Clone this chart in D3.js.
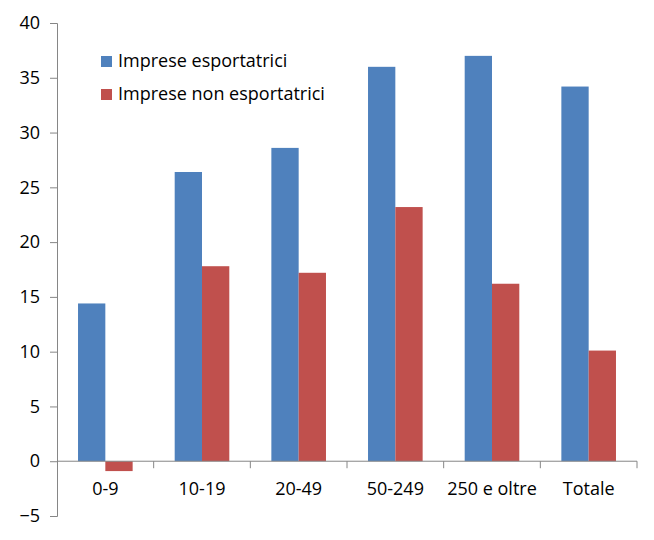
<!DOCTYPE html>
<html lang="it">
<head>
<meta charset="UTF-8">
<script src="https://d3js.org/d3.v7.min.js"></script>
<style>
  body { margin: 0; background: #fff; }
  text { font-family: "Open Sans", "Noto Sans", sans-serif; fill: #000; }
</style>
</head>
<body>
<script>
// data
var categories = ["0-9", "10-19", "20-49", "50-249", "250 e oltre", "Totale"];
var seriesNames = ["Imprese esportatrici", "Imprese non esportatrici"];
var esportatrici = [14.4, 26.4, 28.6, 36.0, 37.0, 34.2];
var nonEsportatrici = [-0.9, 17.8, 17.2, 23.2, 16.2, 10.1];
var yTicks = [-5, 0, 5, 10, 15, 20, 25, 30, 35, 40];
var colors = ["#4F81BD", "#C0504D"];

var width = 654, height = 540;
var margin = {top: 23, right: 17, bottom: 24, left: 57};

var svg = d3.select("body").append("svg")
    .attr("width", width)
    .attr("height", height);

var x = d3.scaleBand()
    .domain(categories)
    .range([margin.left, width - margin.right])
    .paddingInner(0.435)
    .paddingOuter(0.2175);

var xSub = d3.scaleBand()
    .domain(seriesNames)
    .range([0, x.bandwidth()]);

var y = d3.scaleLinear()
    .domain([-5, 40])
    .range([height - margin.bottom, margin.top]);

var axisColor = "#868686";

// bars
var rows = categories.map(function(c, i) {
    return {cat: c, vals: [esportatrici[i], nonEsportatrici[i]]};
});

var groups = svg.selectAll(".group").data(rows).enter()
    .append("g")
    .attr("transform", function(d) { return "translate(" + x(d.cat) + ",0)"; });

groups.selectAll("rect")
    .data(function(d) { return d.vals.map(function(v, k) { return {name: seriesNames[k], v: v, k: k}; }); })
    .enter().append("rect")
    .attr("x", function(d) { return xSub(d.name); })
    .attr("width", xSub.bandwidth())
    .attr("y", function(d) { return y(Math.max(0, d.v)); })
    .attr("height", function(d) { return Math.abs(y(d.v) - y(0)); })
    .attr("fill", function(d) { return colors[d.k]; });

// y axis
var yAxis = d3.axisLeft(y).tickValues(yTicks).tickSize(7).tickPadding(10);
var gy = svg.append("g")
    .attr("transform", "translate(" + margin.left + ",0)")
    .call(yAxis);
gy.select(".domain").attr("stroke", axisColor);
gy.selectAll(".tick line").attr("stroke", axisColor);
gy.selectAll(".tick text").style("font-size", "18px").attr("fill", "#000");

// category axis at zero
var step = x.step();
var bounds = d3.range(categories.length + 1).map(function(i) { return margin.left + i * step; });
var gx = svg.append("g");
gx.append("line")
    .attr("x1", margin.left).attr("x2", width - margin.right)
    .attr("y1", y(0)).attr("y2", y(0))
    .attr("stroke", axisColor);
gx.selectAll(".xt").data(bounds.slice(1)).enter().append("line")
    .attr("x1", function(d) { return d; }).attr("x2", function(d) { return d; })
    .attr("y1", y(0)).attr("y2", y(0) + 7)
    .attr("stroke", axisColor);
gx.selectAll(".xl").data(categories).enter().append("text")
    .attr("x", function(d) { return x(d) + x.bandwidth() / 2; })
    .attr("y", y(0) + 34)
    .attr("text-anchor", "middle")
    .style("font-size", "18px")
    .text(function(d) { return d; });

// legend
var legend = svg.selectAll(".legend").data(seriesNames).enter()
    .append("g")
    .attr("transform", function(d, i) { return "translate(101," + (56 + i * 33) + ")"; });
legend.append("rect")
    .attr("width", 11).attr("height", 11)
    .attr("fill", function(d, i) { return colors[i]; });
legend.append("text")
    .attr("x", 17).attr("y", 11)
    .style("font-size", "18px")
    .text(function(d) { return d; });
</script>
</body>
</html>
